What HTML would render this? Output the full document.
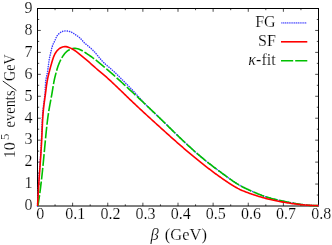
<!DOCTYPE html>
<html><head><meta charset="utf-8"><title>plot</title>
<style>
html,body{margin:0;padding:0;background:#fff;}
svg{display:block;}
text{font-family:"Liberation Serif",serif;fill:#000;stroke:#fff;stroke-width:0.18px;paint-order:fill stroke;}
svg{filter:opacity(1);will-change:transform;}
</style></head><body>
<svg width="332" height="245" viewBox="0 0 332 245">
<rect width="332" height="245" fill="#fff"/>
<path d="M55.06,206.0 v-1.7 M55.06,8.5 v1.7 M72.62,206.0 v-3.3 M72.62,8.5 v3.3 M90.19,206.0 v-1.7 M90.19,8.5 v1.7 M107.75,206.0 v-3.3 M107.75,8.5 v3.3 M125.31,206.0 v-1.7 M125.31,8.5 v1.7 M142.88,206.0 v-3.3 M142.88,8.5 v3.3 M160.44,206.0 v-1.7 M160.44,8.5 v1.7 M178.00,206.0 v-3.3 M178.00,8.5 v3.3 M195.56,206.0 v-1.7 M195.56,8.5 v1.7 M213.12,206.0 v-3.3 M213.12,8.5 v3.3 M230.69,206.0 v-1.7 M230.69,8.5 v1.7 M248.25,206.0 v-3.3 M248.25,8.5 v3.3 M265.81,206.0 v-1.7 M265.81,8.5 v1.7 M283.38,206.0 v-3.3 M283.38,8.5 v3.3 M300.94,206.0 v-1.7 M300.94,8.5 v1.7 M37.5,195.03 h1.7 M318.5,195.03 h-1.7 M37.5,184.06 h3.3 M318.5,184.06 h-3.3 M37.5,173.08 h1.7 M318.5,173.08 h-1.7 M37.5,162.11 h3.3 M318.5,162.11 h-3.3 M37.5,151.14 h1.7 M318.5,151.14 h-1.7 M37.5,140.17 h3.3 M318.5,140.17 h-3.3 M37.5,129.19 h1.7 M318.5,129.19 h-1.7 M37.5,118.22 h3.3 M318.5,118.22 h-3.3 M37.5,107.25 h1.7 M318.5,107.25 h-1.7 M37.5,96.28 h3.3 M318.5,96.28 h-3.3 M37.5,85.31 h1.7 M318.5,85.31 h-1.7 M37.5,74.33 h3.3 M318.5,74.33 h-3.3 M37.5,63.36 h1.7 M318.5,63.36 h-1.7 M37.5,52.39 h3.3 M318.5,52.39 h-3.3 M37.5,41.42 h1.7 M318.5,41.42 h-1.7 M37.5,30.44 h3.3 M318.5,30.44 h-3.3 M37.5,19.47 h1.7 M318.5,19.47 h-1.7" stroke="#000" stroke-width="0.7" fill="none"/>
<rect x="37.5" y="8.5" width="281.0" height="197.5" fill="none" stroke="#000" stroke-width="1"/>
<path d="M37.50,206.00 L37.54,204.75 L37.59,203.50 L37.63,202.25 L37.68,201.00 L37.74,199.75 L37.79,198.50 L37.85,197.25 L37.91,196.00 L37.98,194.76 L38.04,193.51 L38.11,192.26 L38.18,191.01 L38.25,189.76 L38.33,188.52 L38.40,187.27 L38.48,186.02 L38.56,184.78 L38.64,183.53 L38.72,182.28 L38.80,181.04 L38.88,179.79 L38.97,178.54 L39.05,177.30 L39.14,176.05 L39.22,174.80 L39.31,173.56 L39.40,172.31 L39.48,171.07 L39.57,169.82 L39.66,168.57 L39.75,167.33 L39.83,166.08 L39.92,164.83 L40.01,163.59 L40.09,162.34 L40.18,161.10 L40.26,159.85 L40.35,158.60 L40.43,157.36 L40.51,156.11 L40.59,154.86 L40.67,153.62 L40.75,152.37 L40.82,151.12 L40.90,149.87 L40.97,148.63 L41.04,147.38 L41.11,146.13 L41.18,144.88 L41.24,143.63 L41.30,142.39 L41.36,141.14 L41.42,139.89 L41.47,138.64 L41.52,137.39 L41.57,136.14 L41.62,134.89 L41.67,133.64 L41.71,132.39 L41.75,131.14 L41.80,129.89 L41.84,128.64 L41.89,127.39 L41.94,126.14 L41.99,124.89 L42.04,123.64 L42.10,122.39 L42.16,121.14 L42.23,119.89 L42.30,118.64 L42.38,117.40 L42.46,116.15 L42.55,114.91 L42.65,113.66 L42.75,112.42 L42.87,111.17 L42.99,109.93 L43.12,108.69 L43.26,107.45 L43.42,106.21 L43.58,104.97 L43.74,103.73 L43.91,102.50 L44.07,101.26 L44.23,100.02 L44.39,98.78 L44.54,97.54 L44.68,96.29 L44.81,95.05 L44.92,93.80 L45.01,92.56 L45.09,91.30 L45.15,90.05 L45.20,88.80 L45.25,87.55 L45.31,86.29 L45.37,85.04 L45.45,83.79 L45.56,82.55 L45.68,81.31 L45.84,80.07 L46.04,78.84 L46.28,77.62 L46.56,76.40 L46.85,75.18 L47.11,73.96 L47.35,72.74 L47.56,71.51 L47.75,70.27 L47.92,69.03 L48.08,67.79 L48.24,66.55 L48.39,65.31 L48.55,64.07 L48.71,62.83 L48.89,61.59 L49.09,60.36 L49.30,59.12 L49.53,57.89 L49.77,56.67 L50.03,55.45 L50.31,54.23 L50.60,53.02 L50.89,51.80 L51.18,50.58 L51.47,49.36 L51.76,48.14 L52.09,46.93 L52.47,45.75 L52.93,44.59 L53.47,43.47 L54.04,42.35 L54.60,41.23 L55.10,40.09 L55.56,38.92 L56.04,37.77 L56.58,36.64 L57.24,35.58 L58.02,34.59 L58.89,33.68 L59.85,32.86 L60.90,32.15 L62.02,31.58 L63.20,31.17 L64.43,30.95 L65.68,30.88 L66.94,30.95 L68.19,31.14 L69.42,31.43 L70.62,31.83 L71.78,32.34 L72.88,32.93 L73.93,33.61 L74.95,34.33 L75.98,35.05 L77.02,35.74 L78.07,36.43 L79.07,37.17 L79.99,38.00 L80.86,38.90 L81.69,39.84 L82.51,40.79 L83.34,41.73 L84.22,42.62 L85.13,43.47 L86.07,44.29 L87.03,45.09 L88.00,45.89 L88.96,46.69 L89.92,47.50 L90.86,48.33 L91.78,49.17 L92.68,50.03 L93.57,50.92 L94.43,51.82 L95.27,52.75 L96.09,53.69 L96.89,54.65 L97.68,55.62 L98.47,56.59 L99.26,57.56 L100.05,58.53 L100.86,59.48 L101.68,60.42 L102.53,61.34 L103.40,62.23 L104.29,63.10 L105.21,63.95 L106.14,64.78 L107.08,65.61 L108.03,66.42 L108.98,67.23 L109.93,68.04 L110.89,68.86 L111.83,69.68 L112.77,70.51 L113.70,71.35 L114.61,72.20 L115.52,73.06 L116.42,73.92 L117.32,74.80 L118.21,75.67 L119.09,76.55 L119.97,77.44 L120.85,78.33 L121.73,79.22 L122.61,80.10 L123.49,80.99 L124.38,81.88 L125.26,82.76 L126.15,83.64 L127.04,84.52 L127.92,85.40 L128.80,86.28 L129.68,87.17 L130.55,88.07 L131.41,88.97 L132.27,89.88 L133.12,90.80 L133.97,91.72 L134.81,92.64 L135.65,93.57 L136.49,94.50 L137.32,95.43 L138.16,96.36 L138.99,97.29 L139.83,98.21 L140.67,99.14 L141.51,100.06 L142.35,100.99 L143.20,101.90 L144.06,102.81 L144.92,103.72 L145.79,104.62 L146.66,105.51 L147.54,106.39 L148.43,107.27 L149.32,108.15 L150.22,109.02 L151.11,109.89 L152.02,110.75 L152.92,111.62 L153.83,112.48 L154.74,113.33 L155.65,114.19 L156.56,115.05 L157.47,115.91 L158.38,116.76 L159.29,117.62 L160.19,118.48 L161.10,119.35 L162.00,120.21 L162.90,121.08 L163.80,121.95 L164.70,122.81 L165.59,123.69 L166.49,124.56 L167.38,125.43 L168.28,126.30 L169.17,127.18 L170.06,128.05 L170.95,128.93 L171.85,129.80 L172.74,130.68 L173.63,131.55 L174.52,132.43 L175.41,133.30 L176.31,134.18 L177.20,135.05 L178.10,135.92 L178.99,136.79 L179.89,137.66 L180.79,138.53 L181.69,139.39 L182.59,140.26 L183.50,141.12 L184.41,141.98 L185.31,142.84 L186.23,143.69 L187.14,144.55 L188.06,145.40 L188.98,146.24 L189.90,147.09 L190.82,147.93 L191.75,148.77 L192.68,149.60 L193.61,150.44 L194.55,151.27 L195.49,152.09 L196.43,152.92 L197.37,153.74 L198.32,154.55 L199.27,155.37 L200.22,156.18 L201.17,156.98 L202.13,157.79 L203.09,158.58 L204.06,159.38 L205.03,160.17 L206.00,160.96 L206.97,161.74 L207.95,162.52 L208.92,163.29 L209.91,164.06 L210.89,164.83 L211.88,165.59 L212.87,166.35 L213.86,167.11 L214.86,167.87 L215.86,168.62 L216.86,169.37 L217.86,170.11 L218.86,170.86 L219.87,171.60 L220.87,172.34 L221.88,173.08 L222.89,173.82 L223.90,174.56 L224.91,175.30 L225.92,176.03 L226.93,176.77 L227.95,177.51 L228.96,178.24 L229.98,178.97 L231.00,179.70 L232.02,180.42 L233.05,181.13 L234.09,181.83 L235.13,182.52 L236.18,183.20 L237.23,183.87 L238.30,184.51 L239.38,185.15 L240.46,185.76 L241.56,186.35 L242.67,186.93 L243.78,187.49 L244.91,188.04 L246.03,188.58 L247.17,189.11 L248.31,189.63 L249.45,190.15 L250.59,190.66 L251.73,191.18 L252.87,191.68 L254.02,192.19 L255.17,192.69 L256.32,193.18 L257.47,193.66 L258.63,194.13 L259.79,194.60 L260.95,195.05 L262.12,195.49 L263.29,195.92 L264.47,196.33 L265.65,196.72 L266.84,197.11 L268.03,197.48 L269.23,197.83 L270.43,198.18 L271.63,198.51 L272.84,198.83 L274.05,199.14 L275.26,199.44 L276.48,199.73 L277.70,200.02 L278.92,200.29 L280.14,200.56 L281.37,200.83 L282.59,201.08 L283.82,201.33 L285.05,201.58 L286.28,201.83 L287.51,202.07 L288.74,202.30 L289.97,202.54 L291.20,202.77 L292.43,203.00 L293.66,203.23 L294.90,203.45 L296.13,203.66 L297.36,203.86 L298.60,204.06 L299.83,204.25 L301.07,204.43 L302.30,204.61 L303.54,204.77 L304.78,204.92 L306.02,205.05 L307.26,205.18 L308.50,205.29 L309.75,205.39 L310.99,205.47 L312.24,205.53 L313.49,205.58 L314.74,205.61 L315.99,205.63 L317.24,205.62 L318.50,205.60" stroke="#3c3cff" stroke-width="1.5" stroke-linecap="round" stroke-dasharray="0.2 2.13" fill="none"/>
<path d="M37.90,206.00 L38.09,204.85 L38.27,203.70 L38.46,202.54 L38.64,201.39 L38.81,200.24 L38.98,199.08 L39.15,197.93 L39.32,196.78 L39.49,195.62 L39.65,194.47 L39.81,193.31 L39.96,192.16 L40.12,191.01 L40.27,189.85 L40.42,188.69 L40.56,187.54 L40.71,186.38 L40.85,185.23 L40.99,184.07 L41.13,182.91 L41.26,181.76 L41.40,180.60 L41.53,179.44 L41.66,178.29 L41.79,177.13 L41.91,175.97 L42.04,174.82 L42.16,173.66 L42.29,172.50 L42.41,171.34 L42.53,170.18 L42.65,169.03 L42.76,167.87 L42.88,166.71 L42.99,165.55 L43.11,164.39 L43.22,163.23 L43.34,162.07 L43.45,160.91 L43.56,159.75 L43.67,158.59 L43.78,157.44 L43.89,156.28 L44.00,155.12 L44.11,153.96 L44.21,152.80 L44.32,151.64 L44.43,150.48 L44.54,149.32 L44.65,148.16 L44.75,147.00 L44.86,145.84 L44.97,144.68 L45.08,143.52 L45.19,142.36 L45.30,141.20 L45.41,140.04 L45.52,138.87 L45.63,137.71 L45.74,136.55 L45.85,135.39 L45.96,134.23 L46.08,133.07 L46.20,131.91 L46.31,130.75 L46.43,129.59 L46.56,128.43 L46.68,127.28 L46.81,126.12 L46.94,124.96 L47.07,123.80 L47.21,122.64 L47.35,121.49 L47.49,120.33 L47.64,119.17 L47.79,118.02 L47.94,116.87 L48.10,115.71 L48.27,114.56 L48.44,113.41 L48.61,112.25 L48.79,111.10 L48.97,109.95 L49.16,108.81 L49.36,107.66 L49.56,106.51 L49.77,105.37 L49.98,104.22 L50.19,103.08 L50.41,101.93 L50.62,100.79 L50.84,99.64 L51.06,98.50 L51.27,97.35 L51.48,96.21 L51.69,95.06 L51.89,93.91 L52.09,92.76 L52.28,91.61 L52.47,90.46 L52.65,89.31 L52.84,88.16 L53.02,87.01 L53.21,85.86 L53.40,84.71 L53.60,83.56 L53.81,82.42 L54.03,81.27 L54.26,80.13 L54.50,78.99 L54.76,77.86 L55.03,76.73 L55.32,75.60 L55.61,74.47 L55.90,73.34 L56.21,72.21 L56.52,71.08 L56.84,69.96 L57.17,68.84 L57.52,67.73 L57.89,66.62 L58.27,65.52 L58.68,64.43 L59.11,63.35 L59.57,62.28 L60.05,61.22 L60.56,60.17 L61.10,59.14 L61.66,58.12 L62.26,57.12 L62.88,56.13 L63.54,55.16 L64.23,54.21 L64.96,53.31 L65.75,52.45 L66.59,51.65 L67.50,50.91 L68.47,50.26 L69.50,49.68 L70.58,49.20 L71.71,48.83 L72.86,48.56 L74.03,48.41 L75.20,48.38 L76.35,48.49 L77.49,48.73 L78.61,49.07 L79.71,49.50 L80.78,49.99 L81.84,50.54 L82.86,51.12 L83.87,51.73 L84.86,52.35 L85.83,52.98 L86.79,53.63 L87.75,54.29 L88.71,54.94 L89.67,55.60 L90.63,56.26 L91.58,56.93 L92.54,57.60 L93.48,58.28 L94.42,58.97 L95.35,59.67 L96.27,60.38 L97.19,61.11 L98.10,61.84 L99.00,62.57 L99.90,63.31 L100.79,64.06 L101.69,64.80 L102.58,65.55 L103.47,66.30 L104.36,67.06 L105.25,67.81 L106.13,68.57 L107.01,69.33 L107.90,70.09 L108.78,70.85 L109.65,71.62 L110.53,72.39 L111.41,73.15 L112.28,73.92 L113.15,74.70 L114.02,75.47 L114.89,76.24 L115.76,77.02 L116.63,77.80 L117.50,78.58 L118.36,79.36 L119.23,80.14 L120.09,80.92 L120.95,81.70 L121.82,82.49 L122.68,83.27 L123.54,84.06 L124.40,84.84 L125.26,85.63 L126.11,86.42 L126.97,87.21 L127.83,88.00 L128.69,88.79 L129.54,89.58 L130.40,90.37 L131.25,91.16 L132.11,91.95 L132.97,92.74 L133.82,93.53 L134.67,94.33 L135.53,95.12 L136.38,95.91 L137.24,96.71 L138.09,97.50 L138.94,98.29 L139.79,99.09 L140.64,99.88 L141.49,100.68 L142.34,101.48 L143.19,102.27 L144.04,103.07 L144.89,103.87 L145.74,104.67 L146.59,105.47 L147.43,106.27 L148.28,107.07 L149.13,107.87 L149.97,108.67 L150.81,109.47 L151.66,110.28 L152.50,111.08 L153.34,111.89 L154.18,112.69 L155.02,113.50 L155.86,114.30 L156.70,115.11 L157.54,115.92 L158.38,116.73 L159.22,117.54 L160.05,118.35 L160.89,119.16 L161.72,119.98 L162.56,120.79 L163.39,121.60 L164.22,122.42 L165.05,123.23 L165.89,124.05 L166.72,124.86 L167.55,125.68 L168.38,126.49 L169.21,127.31 L170.04,128.13 L170.88,128.94 L171.71,129.76 L172.54,130.57 L173.37,131.38 L174.21,132.20 L175.04,133.01 L175.88,133.82 L176.71,134.63 L177.55,135.44 L178.39,136.25 L179.23,137.06 L180.07,137.87 L180.91,138.67 L181.75,139.48 L182.60,140.28 L183.44,141.08 L184.29,141.88 L185.14,142.68 L185.99,143.47 L186.85,144.27 L187.70,145.06 L188.56,145.85 L189.42,146.64 L190.28,147.42 L191.14,148.21 L192.01,148.99 L192.88,149.76 L193.75,150.54 L194.62,151.31 L195.49,152.08 L196.37,152.85 L197.25,153.62 L198.13,154.38 L199.02,155.14 L199.90,155.90 L200.79,156.65 L201.68,157.40 L202.58,158.15 L203.47,158.89 L204.37,159.63 L205.27,160.37 L206.18,161.10 L207.08,161.83 L207.99,162.56 L208.91,163.28 L209.82,164.00 L210.74,164.71 L211.66,165.43 L212.58,166.14 L213.51,166.84 L214.44,167.55 L215.36,168.25 L216.30,168.95 L217.23,169.65 L218.16,170.34 L219.10,171.03 L220.04,171.73 L220.97,172.42 L221.91,173.11 L222.85,173.80 L223.80,174.48 L224.74,175.17 L225.68,175.86 L226.62,176.55 L227.57,177.23 L228.51,177.92 L229.46,178.60 L230.41,179.28 L231.36,179.96 L232.32,180.62 L233.28,181.29 L234.25,181.94 L235.22,182.58 L236.20,183.21 L237.18,183.83 L238.17,184.44 L239.17,185.03 L240.19,185.60 L241.21,186.16 L242.23,186.71 L243.27,187.24 L244.31,187.75 L245.36,188.26 L246.42,188.76 L247.48,189.25 L248.54,189.74 L249.60,190.22 L250.66,190.70 L251.73,191.18 L252.80,191.65 L253.86,192.12 L254.93,192.58 L256.01,193.04 L257.08,193.50 L258.16,193.94 L259.24,194.38 L260.32,194.80 L261.41,195.22 L262.50,195.63 L263.59,196.02 L264.69,196.40 L265.79,196.77 L266.90,197.13 L268.01,197.47 L269.12,197.80 L270.24,198.13 L271.36,198.44 L272.49,198.74 L273.62,199.03 L274.75,199.32 L275.88,199.59 L277.01,199.86 L278.15,200.12 L279.29,200.38 L280.43,200.63 L281.57,200.87 L282.72,201.11 L283.86,201.34 L285.01,201.57 L286.15,201.80 L287.30,202.03 L288.45,202.25 L289.59,202.47 L290.74,202.69 L291.89,202.90 L293.04,203.11 L294.19,203.32 L295.34,203.52 L296.48,203.72 L297.63,203.91 L298.79,204.09 L299.94,204.27 L301.09,204.44 L302.24,204.60 L303.40,204.75 L304.55,204.89 L305.71,205.02 L306.86,205.14 L308.02,205.25 L309.18,205.34 L310.34,205.43 L311.50,205.50 L312.66,205.55 L313.83,205.59 L314.99,205.62 L316.16,205.63 L317.33,205.62 L318.50,205.60" stroke="#00c000" stroke-width="1.6" stroke-dasharray="11.75 2" stroke-dashoffset="0.75" fill="none"/>
<path d="M37.60,206.00 L37.65,204.81 L37.69,203.62 L37.74,202.44 L37.80,201.25 L37.85,200.06 L37.91,198.87 L37.97,197.69 L38.03,196.50 L38.09,195.31 L38.16,194.13 L38.23,192.94 L38.29,191.76 L38.36,190.57 L38.44,189.38 L38.51,188.20 L38.58,187.01 L38.66,185.83 L38.74,184.64 L38.82,183.46 L38.89,182.27 L38.98,181.09 L39.06,179.90 L39.14,178.72 L39.22,177.53 L39.30,176.35 L39.39,175.16 L39.47,173.98 L39.56,172.79 L39.64,171.61 L39.73,170.42 L39.81,169.24 L39.90,168.05 L39.98,166.87 L40.07,165.69 L40.15,164.50 L40.23,163.32 L40.32,162.13 L40.40,160.95 L40.48,159.76 L40.57,158.58 L40.65,157.39 L40.73,156.21 L40.81,155.02 L40.89,153.84 L40.96,152.65 L41.04,151.47 L41.12,150.28 L41.19,149.09 L41.26,147.91 L41.33,146.72 L41.40,145.54 L41.47,144.35 L41.54,143.16 L41.60,141.98 L41.66,140.79 L41.72,139.60 L41.78,138.42 L41.84,137.23 L41.89,136.04 L41.94,134.85 L41.99,133.67 L42.04,132.48 L42.09,131.29 L42.14,130.10 L42.19,128.91 L42.25,127.73 L42.30,126.54 L42.35,125.35 L42.41,124.16 L42.47,122.98 L42.53,121.79 L42.60,120.60 L42.67,119.42 L42.74,118.23 L42.82,117.05 L42.90,115.86 L42.99,114.68 L43.08,113.49 L43.18,112.31 L43.28,111.13 L43.40,109.95 L43.52,108.77 L43.65,107.59 L43.78,106.41 L43.92,105.23 L44.07,104.05 L44.22,102.87 L44.38,101.69 L44.54,100.52 L44.70,99.34 L44.86,98.16 L45.03,96.99 L45.19,95.81 L45.35,94.63 L45.50,93.45 L45.65,92.27 L45.80,91.09 L45.95,89.91 L46.10,88.73 L46.25,87.56 L46.40,86.38 L46.56,85.20 L46.73,84.02 L46.91,82.85 L47.10,81.68 L47.31,80.51 L47.53,79.34 L47.76,78.18 L48.02,77.02 L48.28,75.86 L48.55,74.70 L48.83,73.55 L49.12,72.40 L49.41,71.25 L49.71,70.10 L50.01,68.95 L50.32,67.81 L50.64,66.66 L50.96,65.52 L51.28,64.37 L51.61,63.23 L51.93,62.08 L52.27,60.93 L52.61,59.79 L52.98,58.65 L53.37,57.53 L53.79,56.42 L54.26,55.33 L54.77,54.26 L55.34,53.23 L55.97,52.22 L56.68,51.26 L57.46,50.35 L58.33,49.50 L59.28,48.71 L60.30,48.02 L61.38,47.44 L62.50,46.99 L63.65,46.70 L64.82,46.59 L66.00,46.65 L67.17,46.86 L68.33,47.20 L69.47,47.63 L70.58,48.12 L71.66,48.65 L72.70,49.22 L73.72,49.83 L74.72,50.47 L75.69,51.14 L76.65,51.83 L77.59,52.55 L78.53,53.28 L79.45,54.03 L80.37,54.79 L81.28,55.55 L82.20,56.31 L83.11,57.07 L84.03,57.83 L84.94,58.59 L85.86,59.35 L86.77,60.11 L87.67,60.88 L88.57,61.66 L89.45,62.45 L90.33,63.25 L91.21,64.05 L92.09,64.85 L92.97,65.65 L93.85,66.44 L94.74,67.22 L95.65,68.00 L96.56,68.76 L97.47,69.52 L98.39,70.27 L99.31,71.03 L100.22,71.78 L101.13,72.55 L102.04,73.31 L102.94,74.09 L103.84,74.86 L104.74,75.64 L105.63,76.43 L106.52,77.21 L107.40,78.01 L108.28,78.80 L109.16,79.60 L110.04,80.40 L110.91,81.21 L111.78,82.02 L112.65,82.83 L113.52,83.64 L114.38,84.46 L115.24,85.27 L116.10,86.09 L116.96,86.91 L117.82,87.74 L118.68,88.56 L119.53,89.38 L120.39,90.21 L121.24,91.04 L122.10,91.86 L122.95,92.69 L123.81,93.52 L124.66,94.35 L125.51,95.17 L126.37,96.00 L127.22,96.83 L128.08,97.65 L128.93,98.48 L129.79,99.30 L130.65,100.12 L131.51,100.94 L132.37,101.76 L133.23,102.58 L134.09,103.40 L134.96,104.21 L135.82,105.03 L136.69,105.84 L137.56,106.65 L138.42,107.47 L139.29,108.28 L140.16,109.09 L141.03,109.89 L141.90,110.70 L142.78,111.51 L143.65,112.31 L144.52,113.12 L145.40,113.92 L146.27,114.73 L147.15,115.53 L148.02,116.33 L148.90,117.13 L149.78,117.93 L150.66,118.73 L151.53,119.53 L152.41,120.33 L153.29,121.13 L154.17,121.93 L155.05,122.73 L155.93,123.52 L156.81,124.32 L157.69,125.12 L158.58,125.91 L159.46,126.71 L160.34,127.51 L161.22,128.30 L162.10,129.10 L162.99,129.89 L163.87,130.69 L164.75,131.48 L165.64,132.28 L166.52,133.07 L167.40,133.86 L168.29,134.66 L169.17,135.45 L170.06,136.24 L170.95,137.03 L171.83,137.82 L172.72,138.61 L173.61,139.40 L174.50,140.18 L175.39,140.97 L176.28,141.75 L177.17,142.54 L178.07,143.32 L178.96,144.10 L179.86,144.89 L180.75,145.67 L181.65,146.44 L182.55,147.22 L183.45,148.00 L184.35,148.77 L185.25,149.55 L186.16,150.32 L187.06,151.09 L187.97,151.86 L188.88,152.62 L189.79,153.39 L190.70,154.15 L191.61,154.91 L192.52,155.67 L193.44,156.43 L194.35,157.19 L195.27,157.94 L196.19,158.70 L197.11,159.45 L198.03,160.20 L198.96,160.94 L199.88,161.69 L200.81,162.43 L201.74,163.17 L202.67,163.91 L203.60,164.65 L204.54,165.38 L205.47,166.11 L206.41,166.84 L207.35,167.57 L208.29,168.29 L209.23,169.01 L210.18,169.73 L211.12,170.45 L212.07,171.16 L213.02,171.87 L213.97,172.58 L214.93,173.29 L215.89,173.99 L216.85,174.69 L217.81,175.39 L218.77,176.08 L219.74,176.77 L220.71,177.46 L221.68,178.14 L222.65,178.83 L223.63,179.50 L224.61,180.18 L225.59,180.85 L226.58,181.52 L227.57,182.18 L228.56,182.84 L229.55,183.50 L230.55,184.14 L231.56,184.78 L232.57,185.41 L233.59,186.03 L234.61,186.63 L235.64,187.22 L236.68,187.80 L237.72,188.36 L238.78,188.90 L239.84,189.43 L240.92,189.93 L242.00,190.41 L243.09,190.88 L244.19,191.33 L245.30,191.77 L246.41,192.20 L247.52,192.61 L248.64,193.02 L249.76,193.42 L250.89,193.81 L252.01,194.20 L253.14,194.58 L254.26,194.96 L255.39,195.33 L256.52,195.69 L257.66,196.05 L258.79,196.40 L259.93,196.75 L261.06,197.09 L262.21,197.42 L263.35,197.74 L264.49,198.05 L265.64,198.36 L266.79,198.66 L267.94,198.95 L269.10,199.23 L270.25,199.50 L271.41,199.77 L272.57,200.03 L273.73,200.29 L274.89,200.54 L276.05,200.78 L277.22,201.01 L278.39,201.24 L279.55,201.47 L280.72,201.68 L281.89,201.90 L283.06,202.10 L284.24,202.31 L285.41,202.50 L286.58,202.70 L287.76,202.88 L288.93,203.07 L290.11,203.24 L291.28,203.42 L292.46,203.59 L293.64,203.75 L294.81,203.91 L295.99,204.06 L297.17,204.20 L298.35,204.34 L299.53,204.47 L300.71,204.60 L301.90,204.72 L303.08,204.83 L304.26,204.94 L305.44,205.04 L306.63,205.13 L307.81,205.21 L309.00,205.29 L310.18,205.36 L311.37,205.42 L312.56,205.47 L313.74,205.51 L314.93,205.55 L316.12,205.57 L317.31,205.59 L318.50,205.60" stroke="#ff0000" stroke-width="1.6" fill="none" stroke-linejoin="round"/>
<path d="M281.8,22.9 H306.4" stroke="#3c3cff" stroke-width="1.35" stroke-linecap="round" stroke-dasharray="0.15 1.68" fill="none"/>
<path d="M281,41.8 H307.3" stroke="#ff0000" stroke-width="1.6" fill="none"/>
<path d="M281,60.7 H307.3" stroke="#00c000" stroke-width="1.6" stroke-dasharray="12.2 2" fill="none"/>
<text x="275.6" y="27.1" font-size="16" text-anchor="end">FG</text>
<text x="275.8" y="46.2" font-size="16" text-anchor="end">SF</text>
<text x="275.6" y="65.3" font-size="16" text-anchor="end"><tspan font-style="italic">κ</tspan>-fit</text>
<text x="40.20" y="219.4" font-size="16" text-anchor="middle">0</text>
<text x="75.33" y="219.4" font-size="16" text-anchor="middle">0.1</text>
<text x="110.45" y="219.4" font-size="16" text-anchor="middle">0.2</text>
<text x="145.57" y="219.4" font-size="16" text-anchor="middle">0.3</text>
<text x="180.70" y="219.4" font-size="16" text-anchor="middle">0.4</text>
<text x="215.82" y="219.4" font-size="16" text-anchor="middle">0.5</text>
<text x="250.95" y="219.4" font-size="16" text-anchor="middle">0.6</text>
<text x="286.07" y="219.4" font-size="16" text-anchor="middle">0.7</text>
<text x="321.20" y="219.4" font-size="16" text-anchor="middle">0.8</text>
<text x="32.6" y="210.30" font-size="16" text-anchor="end">0</text>
<text x="32.6" y="188.36" font-size="16" text-anchor="end">1</text>
<text x="32.6" y="166.41" font-size="16" text-anchor="end">2</text>
<text x="32.6" y="144.47" font-size="16" text-anchor="end">3</text>
<text x="32.6" y="122.52" font-size="16" text-anchor="end">4</text>
<text x="32.6" y="100.58" font-size="16" text-anchor="end">5</text>
<text x="32.6" y="78.63" font-size="16" text-anchor="end">6</text>
<text x="32.6" y="56.69" font-size="16" text-anchor="end">7</text>
<text x="32.6" y="34.74" font-size="16" text-anchor="end">8</text>
<text x="32.6" y="12.80" font-size="16" text-anchor="end">9</text>
<text x="150.4" y="239.5" font-size="16.5" font-style="italic">β</text>
<text x="164.8" y="239.5" font-size="16.5">(GeV)</text>
<g transform="translate(14.8,0) rotate(-90)">
<text x="-158.3" y="0" font-size="16">10</text>
<text x="-139.9" y="-5.6" font-size="12.5">5</text>
<text x="-127.4" y="0" font-size="16" textLength="36.9" lengthAdjust="spacingAndGlyphs">events</text>
<text x="-81.0" y="0" font-size="16" textLength="26.8" lengthAdjust="spacingAndGlyphs">GeV</text>
</g>
<path d="M16.4,90.6 L2.8,81.0" stroke="#000" stroke-width="0.85" fill="none"/>
</svg>
</body></html>
